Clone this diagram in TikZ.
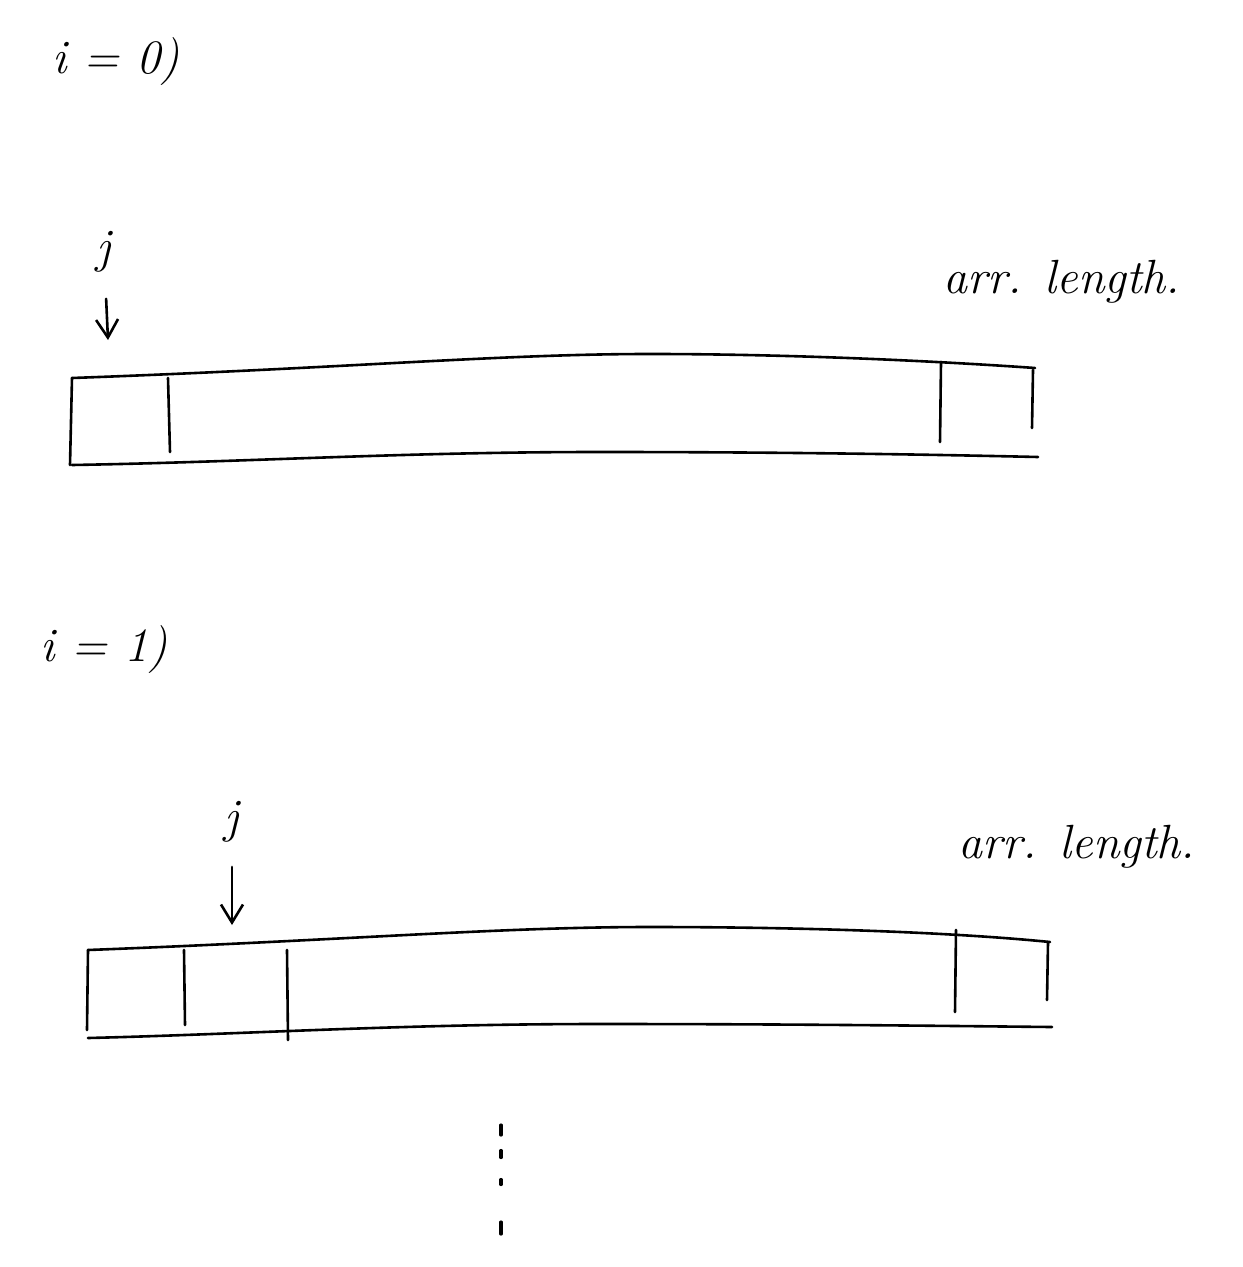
\documentclass[tikz,border=0pt]{standalone}
\usetikzlibrary{arrows.meta}
\begin{document}
\begin{tikzpicture}[x=0.5pt,y=-0.5pt,
  ink/.style={line width=1.3pt,line cap=round,line join=round},
  lbl/.style={font=\fontsize{24}{28}\selectfont\itshape,inner sep=0pt},
  ptr/.style={ink,-{Straight Barb[length=9pt,width=11pt]}}]
\useasboundingbox (0,0) rectangle (1242,1267);
% ---------- i = 0 ----------
\node[lbl,anchor=west] (t0) at (52,62) {i = 0)};
\node[lbl] (j0) at (104,252) {j};
\coordinate (a0) at (108,340);
\draw[ptr,shorten <=13pt] (j0) -- (a0);
% array 1
\coordinate (A1tl) at (72,378);
\coordinate (A1tr) at (1035,368);
\coordinate (A1bl) at (72,465);
\coordinate (A1br) at (1038,457);
\draw[ink] (A1tl) .. controls (350,368) and (500,354) .. (650,354)
  .. controls (800,354) and (950,362) .. (A1tr);
\draw[ink] (A1bl) .. controls (250,462) and (400,452) .. (600,452)
  .. controls (800,452) and (950,455) .. (A1br);
\draw[ink] (A1tl) -- (70,465);
\draw[ink] (168,378) -- (170,452);
\draw[ink] (941,362) -- (940,442);
\draw[ink] (1033,370) -- (1032,428);
\node[lbl] (len0) at (1062,282) {arr. length.};
% ---------- i = 1 ----------
\node[lbl,anchor=west] (t1) at (40,650) {i = 1)};
\node[lbl] (j1) at (232,822) {j};
\coordinate (a1) at (232,925);
\draw[ptr,shorten <=12pt] (j1) -- (a1);
% array 2
\coordinate (A2tl) at (88,950);
\coordinate (A2tr) at (1050,942);
\coordinate (A2bl) at (88,1038);
\coordinate (A2br) at (1052,1027);
\draw[ink] (A2tl) .. controls (350,940) and (500,927) .. (650,927)
  .. controls (800,927) and (950,932) .. (A2tr);
\draw[ink] (A2bl) .. controls (250,1034) and (400,1024) .. (600,1024)
  .. controls (800,1024) and (950,1026) .. (A2br);
\draw[ink] (A2tl) -- (87,1030);
\draw[ink] (184,950) -- (185,1025);
\draw[ink] (287,950) -- (288,1040);
\draw[ink] (956,930) -- (955,1012);
\draw[ink] (1048,942) -- (1047,1000);
\node[lbl] (len1) at (1077,847) {arr. length.};
% continuation dots (vertical ellipsis)
\foreach \y/\l in {1130/10, 1154/7, 1182/5, 1228/12}
  \draw[ink,line width=1.6pt] (501,\y-\l/2) -- (501,\y+\l/2);
\end{tikzpicture}
\end{document}
